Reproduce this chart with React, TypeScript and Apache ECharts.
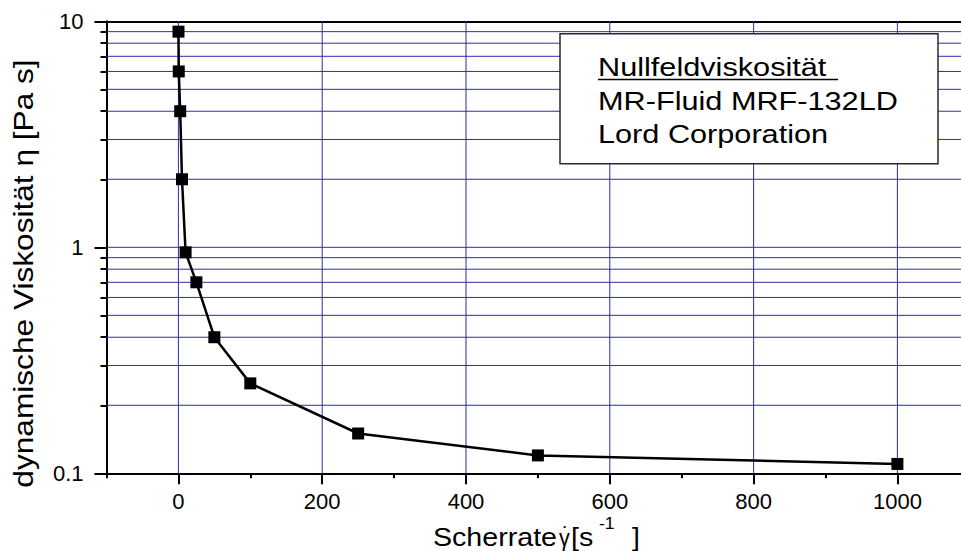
import React, { useEffect, useRef } from "react";
import * as echarts from "echarts";

// ---- data ----
const shearRate = [0.1, 0.5, 2.5, 5, 10, 25, 50, 100, 250, 500, 1000];
const viscosity = [9, 6, 4, 2, 0.95, 0.7, 0.4, 0.25, 0.15, 0.12, 0.11];
const xMajorTicks = [0, 200, 400, 600, 800, 1000];
const xMinorTicks = [-100, 100, 300, 500, 700, 900, 1100];
const yMajorTicks = [0.1, 1, 10];
const yMinorTicks = [0.2, 0.3, 0.4, 0.5, 0.6, 0.7, 0.8, 0.9, 2, 3, 4, 5, 6, 7, 8, 9];
const yGridLines = [0.2, 0.3, 0.4, 0.5, 0.6, 0.7, 0.8, 0.9, 1, 2, 3, 4, 5, 6, 7, 8, 9];
const xGridLines = [0, 200, 400, 600, 800, 1000];
const xRange = [-100, 1100];
const yRange = [0.1, 10];
const legendLines = ["Nullfeldviskosität ", "MR-Fluid MRF-132LD", "Lord Corporation"];
const yTitle = "dynamische Viskosität η [Pa s]";
const xTitleParts = ["Scherrate", "γ", "˙", "[s", "-1", "]"];

const FONT = "'Liberation Sans', Arial, sans-serif";
const GRID_COLOR = "#2d2da8";

export default function App() {
  const ref = useRef<HTMLDivElement>(null);

  useEffect(() => {
    if (!ref.current) return;
    const chart = echarts.init(ref.current, undefined, { renderer: "svg" });

    const xAxisBase = {
      type: "value" as const,
      min: xRange[0],
      max: xRange[1],
      splitLine: { show: false },
      minorTick: { show: false },
    };
    const yAxisBase = {
      type: "log" as const,
      logBase: 10,
      min: yRange[0],
      max: yRange[1],
      splitLine: { show: false },
      minorTick: { show: false },
      minorSplitLine: { show: false },
    };
    const fmt = (v: number) => String(+Number(v).toPrecision(3));

    const legendX = 598;
    const legendCenters = [67, 101, 134.3];
    const titleText = (text: string, x: number, y: number, fontSize: number, scaleX: number) => ({
      type: "text",
      z: 101,
      x,
      y,
      scaleX,
      style: { text, fontSize, fontFamily: FONT, fill: "#000", align: "left", verticalAlign: "middle" },
    });

    const gridSeries = [
      ...yGridLines.map((v) => ({
        type: "line",
        xAxisIndex: 0,
        yAxisIndex: 0,
        z: 1,
        silent: true,
        symbol: "none",
        lineStyle: { color: GRID_COLOR, width: 1 },
        data: [
          [xRange[0], v],
          [xRange[1], v],
        ],
      })),
      ...xGridLines.map((v) => ({
        type: "line",
        xAxisIndex: 0,
        yAxisIndex: 0,
        z: 1,
        silent: true,
        symbol: "none",
        lineStyle: { color: GRID_COLOR, width: 1 },
        data: [
          [v, yRange[0]],
          [v, yRange[1]],
        ],
      })),
    ];

    chart.setOption({
      animation: false,
      backgroundColor: "#ffffff",
      grid: {
        left: 106.5,
        top: 21.3,
        width: 862.8,
        height: 452,
        outerBoundsMode: "none",
        containLabel: false,
      },
      xAxis: [
        {
          ...xAxisBase,
          position: "bottom",
          axisLine: { show: true, onZero: false, lineStyle: { color: "#000", width: 2 } },
          axisTick: {
            show: true,
            customValues: xMinorTicks,
            length: 5,
            lineStyle: { color: "#000", width: 2 },
          },
          axisLabel: {
            show: true,
            customValues: xMajorTicks,
            fontSize: 22,
            fontFamily: FONT,
            color: "#000",
            margin: 17,
            formatter: fmt,
          },
        },
        {
          ...xAxisBase,
          position: "bottom",
          axisLine: { show: false, onZero: false },
          axisTick: {
            show: true,
            customValues: xMajorTicks,
            length: 11,
            lineStyle: { color: "#000", width: 2 },
          },
          axisLabel: { show: false },
        },
        {
          ...xAxisBase,
          position: "top",
          axisLine: { show: true, onZero: false, lineStyle: { color: "#000", width: 2 } },
          axisTick: { show: false },
          axisLabel: { show: false },
        },
      ],
      yAxis: [
        {
          ...yAxisBase,
          position: "left",
          axisLine: { show: true, onZero: false, lineStyle: { color: "#000", width: 2 } },
          axisTick: {
            show: true,
            customValues: yMinorTicks,
            length: 6,
            lineStyle: { color: "#000", width: 2 },
          },
          axisLabel: { show: false },
        },
        {
          ...yAxisBase,
          position: "left",
          offset: 0,
          axisLine: { show: false, onZero: false },
          axisTick: {
            show: true,
            customValues: yMajorTicks,
            length: 12,
            lineStyle: { color: "#000", width: 2 },
          },
          axisLabel: {
            show: true,
            customValues: yMajorTicks,
            fontSize: 22,
            fontFamily: FONT,
            color: "#000",
            margin: 23,
            formatter: fmt,
          },
        },
      ],
      series: [
        ...gridSeries,
        {
          type: "line",
          name: "Viskosität",
          xAxisIndex: 0,
          yAxisIndex: 0,
          z: 5,
          symbol: "rect",
          symbolSize: 12,
          itemStyle: { color: "#000" },
          lineStyle: { color: "#000", width: 2.5 },
          data: shearRate.map((x, i) => [x, viscosity[i]]),
        },
      ],
      graphic: [
        {
          type: "rect",
          z: 100,
          shape: { x: 560, y: 33.7, width: 378, height: 130 },
          style: { fill: "#fff", stroke: "#2a2a2a", lineWidth: 1.5 },
        },
        ...legendLines.map((t, i) => titleText(t, legendX, legendCenters[i], 26, 1.18)),
        {
          type: "line",
          z: 101,
          shape: { x1: 598, y1: 79.5, x2: 838, y2: 79.5 },
          style: { stroke: "#000", lineWidth: 1.5 },
        },
        {
          type: "text",
          z: 101,
          x: 23.6,
          y: 273.5,
          rotation: Math.PI / 2,
          scaleX: 1.13,
          style: {
            text: yTitle,
            fontSize: 28,
            fontFamily: FONT,
            fill: "#000",
            align: "center",
            verticalAlign: "middle",
          },
        },
        titleText(xTitleParts[0], 433, 537, 26, 1.1),
        titleText(xTitleParts[1], 559, 538, 24, 0.9),
        titleText(xTitleParts[2], 562, 534, 22, 1.0),
        titleText(xTitleParts[3], 571, 537, 26, 1.1),
        titleText(xTitleParts[4], 599, 524, 16, 1.1),
        titleText(xTitleParts[5], 632, 537, 26, 1.1),
      ],
    });

    return () => chart.dispose();
  }, []);

  return (
    <div
      ref={ref}
      style={{ position: "fixed", left: 0, top: 0, width: 961, height: 551, background: "#fff" }}
    />
  );
}
